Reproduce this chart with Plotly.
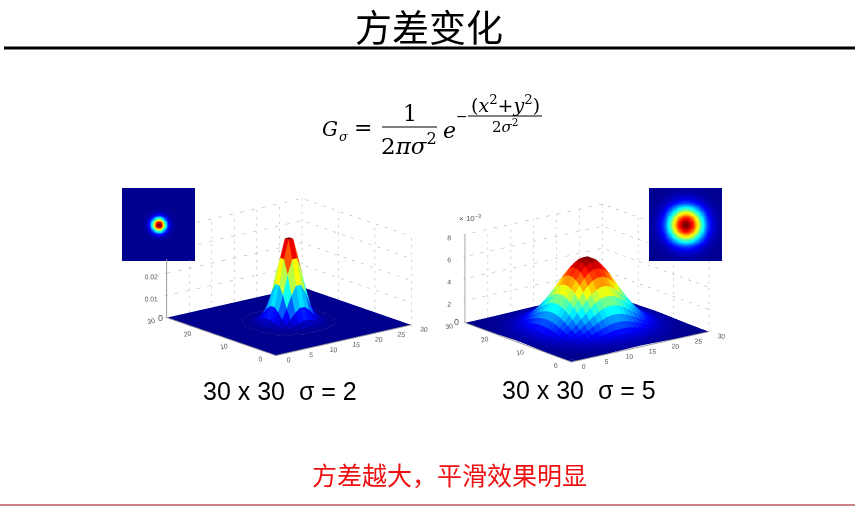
import numpy as np
import plotly.graph_objects as go

W, H = 855, 506

# ── DATA (one quadrant, first row/col is next to the centre) ──
# the grid has 30 points per side so the centre falls between cells (flat cap on top)
# sigma = 2, units of 1e-4, the rest of the grid is flat
SIGMA2_QUAD = [
    [374, 291, 177, 83, 31, 9, 2],
    [291, 227, 138, 65, 24, 7, 2],
    [177, 138, 83, 39, 15, 4, 1],
    [83, 65, 39, 19, 7, 2, 0],
    [31, 24, 15, 7, 3, 1, 0],
    [9, 7, 4, 2, 1, 0, 0],
    [2, 2, 1, 0, 0, 0, 0],
]
# sigma = 5, units of 1e-5
SIGMA5_QUAD = [
    [631, 606, 559, 496, 423, 346, 273, 206, 150, 104, 70, 45, 28, 16, 10],
    [606, 582, 537, 477, 406, 333, 262, 198, 144, 100, 67, 43, 27, 16, 9],
    [559, 537, 496, 440, 375, 307, 242, 183, 133, 92, 62, 40, 25, 15, 8],
    [496, 477, 440, 390, 333, 272, 214, 162, 118, 82, 55, 35, 22, 13, 7],
    [423, 406, 375, 333, 283, 232, 183, 138, 100, 70, 47, 30, 19, 11, 6],
    [346, 333, 307, 272, 232, 190, 150, 113, 82, 57, 38, 25, 15, 9, 5],
    [273, 262, 242, 214, 183, 150, 118, 89, 65, 45, 30, 19, 12, 7, 4],
    [206, 198, 183, 162, 138, 113, 89, 67, 49, 34, 23, 15, 9, 5, 3],
    [150, 144, 133, 118, 100, 82, 65, 49, 35, 25, 17, 11, 7, 4, 2],
    [104, 100, 92, 82, 70, 57, 45, 34, 25, 17, 11, 7, 5, 3, 2],
    [70, 67, 62, 55, 47, 38, 30, 23, 17, 11, 8, 5, 3, 2, 1],
    [45, 43, 40, 35, 30, 25, 19, 15, 11, 7, 5, 3, 2, 1, 1],
    [28, 27, 25, 22, 19, 15, 12, 9, 7, 5, 3, 2, 1, 1, 0],
    [16, 16, 15, 13, 11, 9, 7, 5, 4, 3, 2, 1, 1, 0, 0],
    [10, 9, 8, 7, 6, 5, 4, 3, 2, 2, 1, 1, 0, 0, 0],
]
X_TICKS = [0, 5, 10, 15, 20, 25, 30]
Y_TICKS = [0, 10, 20, 30]
# left z axis is kept in units of 1e-4, very small z values gave a dark ring on the floor
Z_TICKS_L = [0, 100, 200, 300, 400]
Z_LABELS_L = ["0", "0.01", "0.02", "0.03", "0.04"]
Z_TICKS_R = [0, 2, 4, 6, 8]

TITLE = "方差变化"
CAPTION_L = "30 x 30  σ = 2"
CAPTION_R = "30 x 30  σ = 5"
NOTE = "方差越大，平滑效果明显"

# MATLAB jet
JET = [[0, "rgb(0,0,143)"], [0.125, "rgb(0,0,255)"], [0.375, "rgb(0,255,255)"],
       [0.625, "rgb(255,255,0)"], [0.875, "rgb(255,0,0)"], [1, "rgb(128,0,0)"]]
GRID = "#a8a8a8"
AXIS = "#9a9a9a"
TICK = "#555555"


def full_grid(quad):
    # pad the quadrant to 15 x 15, then mirror it to 30 x 30
    q = np.zeros((15, 15))
    a = np.array(quad, dtype=float)
    q[:a.shape[0], :a.shape[1]] = a
    top = np.hstack([q[:, ::-1], q])
    return np.vstack([top[::-1], top])


def mesh_trace(z, cmax, scene):
    n = z.shape[0]
    xx, yy = np.meshgrid(np.linspace(0, 30, n), np.linspace(0, 30, n))
    i, j, k, cell = [], [], [], []
    for r in range(n - 1):
        for c in range(n - 1):
            p = r * n + c
            i += [p, p]
            j += [p + 1, p + n + 1]
            k += [p + n + 1, p + n]
            v = z[r:r + 2, c:c + 2].mean()
            cell += [v, v]
    return go.Mesh3d(x=xx.ravel(), y=yy.ravel(), z=z.ravel(), i=i, j=j, k=k,
                     intensity=cell, intensitymode="cell", colorscale=JET,
                     cmin=0, cmax=cmax, showscale=False, flatshading=True,
                     lighting=dict(ambient=1, diffuse=0, specular=0, fresnel=0, roughness=1),
                     hoverinfo="skip", scene=scene)


def dotted(segments, scene, color=GRID, dash="dot", width=1):
    xs, ys, zs = [], [], []
    for a, b in segments:
        xs += [a[0], b[0], None]
        ys += [a[1], b[1], None]
        zs += [a[2], b[2], None]
    return go.Scatter3d(x=xs, y=ys, z=zs, mode="lines", showlegend=False,
                        line=dict(color=color, width=width, dash=dash),
                        hoverinfo="skip", scene=scene)


z_left = full_grid(SIGMA2_QUAD)
z_right = full_grid(SIGMA5_QUAD) * 1e-2   # axis is in 1e-3

fig = go.Figure()
fig.add_trace(mesh_trace(z_left, 374, "scene"))
fig.add_trace(mesh_trace(z_right, 6.31, "scene2"))

# back walls, lines stop where the inset images sit on top of them
seg_l = []
for x in X_TICKS[1:]:
    seg_l.append(((x, 30, 0), (x, 30, 240 if x == 5 else 400)))
for y in Y_TICKS[:-1]:
    seg_l.append(((30, y, 0), (30, y, 400)))
for z in Z_TICKS_L[1:]:
    seg_l.append(((6.2 if z > 250 else 0, 30, z), (30, 30, z)))
    seg_l.append(((30, 30, z), (30, 0, z)))
fig.add_trace(dotted(seg_l, "scene"))
# z axis of the left plot ends under the inset
fig.add_trace(dotted([((0, 30, 0), (0, 30, 264))], "scene", AXIS, "solid", 2))

seg_r = []
for x in X_TICKS[1:]:
    seg_r.append(((x, 30, 0), (x, 30, 8)))
seg_r.append(((30, 20, 0), (30, 20, 8)))
seg_r.append(((30, 10, 0), (30, 10, 5.2)))
seg_r.append(((30, 0, 0), (30, 0, 6.4)))
for z in Z_TICKS_R[1:]:
    seg_r.append(((0, 30, z), (30, 30, z)))
    seg_r.append(((30, 30, z), (30, 17 if z > 5 else 0, z)))
fig.add_trace(dotted(seg_r, "scene2"))

# inset images
fig.add_trace(go.Heatmap(z=z_left, colorscale=JET, zmin=0, zmax=374, zsmooth="best",
                         showscale=False, hoverinfo="skip", xaxis="x", yaxis="y"))
fig.add_trace(go.Heatmap(z=z_right, colorscale=JET, zmin=0, zmax=6.31, zsmooth="best",
                         showscale=False, hoverinfo="skip", xaxis="x2", yaxis="y2"))


def axis3d(rng, vals, text=None, line=True, angle=0):
    return dict(range=rng, autorange=False, tickvals=vals, ticktext=text or [str(v) for v in vals],
                showgrid=False, zeroline=False, showbackground=False, showspikes=False,
                showline=line, linecolor=AXIS, linewidth=2, ticks="outside", ticklen=2,
                tickcolor=AXIS, tickangle=angle,
                tickfont=dict(family="Liberation Sans", size=9, color=TICK),
                title=dict(text=""))


def scene_layout(box, eye, zaxis):
    x0, x1, y0, y1 = box
    return dict(domain=dict(x=[x0 / W, x1 / W], y=[1 - y1 / H, 1 - y0 / H]),
                xaxis=axis3d([0, 30], X_TICKS, angle=7), yaxis=axis3d([0, 30], Y_TICKS, angle=-10),
                zaxis=zaxis,
                aspectmode="manual", aspectratio=dict(x=1, y=1, z=0.53),
                camera=dict(eye=eye, center=dict(x=0, y=0, z=0), up=dict(x=0, y=0, z=1),
                            projection=dict(type="orthographic")),
                bgcolor="rgba(0,0,0,0)")


hidden = dict(visible=False, fixedrange=True, constrain="domain")
fig.update_layout(
    width=W, height=H, margin=dict(l=0, r=0, t=0, b=0),
    paper_bgcolor="white", plot_bgcolor="white", showlegend=False,
    scene=scene_layout((144, 434, 103, 451), dict(x=-0.603, y=-0.747, z=0.28),
                       axis3d([0, 400], Z_TICKS_L[1:3], Z_LABELS_L[1:3], line=False)),
    scene2=scene_layout((442, 732, 109, 457), dict(x=-0.586, y=-0.758, z=0.285),
                        axis3d([0, 8], Z_TICKS_R[1:])),
    xaxis=dict(domain=[122 / W, 195 / W], **hidden),
    yaxis=dict(domain=[1 - 261 / H, 1 - 188 / H], **hidden),
    xaxis2=dict(domain=[649 / W, 722 / W], anchor="y2", **hidden),
    yaxis2=dict(domain=[1 - 261 / H, 1 - 188 / H], anchor="x2", **hidden),
)


def text(s, x, y, size, color="black", family="Liberation Sans"):
    fig.add_annotation(text=s, x=x / W, y=1 - y / H, xref="paper", yref="paper",
                       xanchor="center", yanchor="middle", showarrow=False,
                       font=dict(size=size, color=color, family=family))


def rule(x0, x1, y, width, color="black"):
    fig.add_shape(type="line", xref="paper", yref="paper", x0=x0 / W, x1=x1 / W,
                  y0=1 - y / H, y1=1 - y / H, line=dict(color=color, width=width))


CJK = "Noto Sans CJK SC"
SERIF = "DejaVu Serif"
text(TITLE, 429, 26, 37, family=CJK)
rule(4, 855, 48, 3)
rule(0, 855, 505, 1.5, "#b85a60")

# the formula, piece by piece (no MathJax offline)
text("<i>G</i>", 330, 129, 20, family=SERIF)
text("<i>σ</i>", 344, 136, 13, family=SERIF)
text("=", 363, 128, 22, family=SERIF)
text("1", 410, 113, 22, family=SERIF)
rule(382, 437, 127, 1.2)
text("2<i>πσ</i><sup>2</sup>", 409, 144, 23, family=SERIF)
text("<i>e</i>", 449, 130, 22, family=SERIF)
text("−", 462, 116, 14, family=SERIF)
rule(468, 542, 116, 1)
text("(<i>x</i><sup>2</sup>+<i>y</i><sup>2</sup>)", 505, 104, 19, family=SERIF)
text("2<i>σ</i><sup>2</sup>", 505, 126, 15, family=SERIF)

# z = 0 labels sit right above the y = 30 labels, the 3D axes would stack them
text("0", 160, 318, 9, TICK)
text("0", 456, 322, 9, TICK)
text("× 10<sup>−3</sup>", 470, 218, 8, TICK)
text(CAPTION_L, 280, 391, 25)
text(CAPTION_R, 579, 390, 25)
text(NOTE, 449, 474, 25, "#ee1111", CJK)

fig.write_html("out.html", config=dict(displayModeBar=False),
               post_script="document.body.style.margin='0';")
